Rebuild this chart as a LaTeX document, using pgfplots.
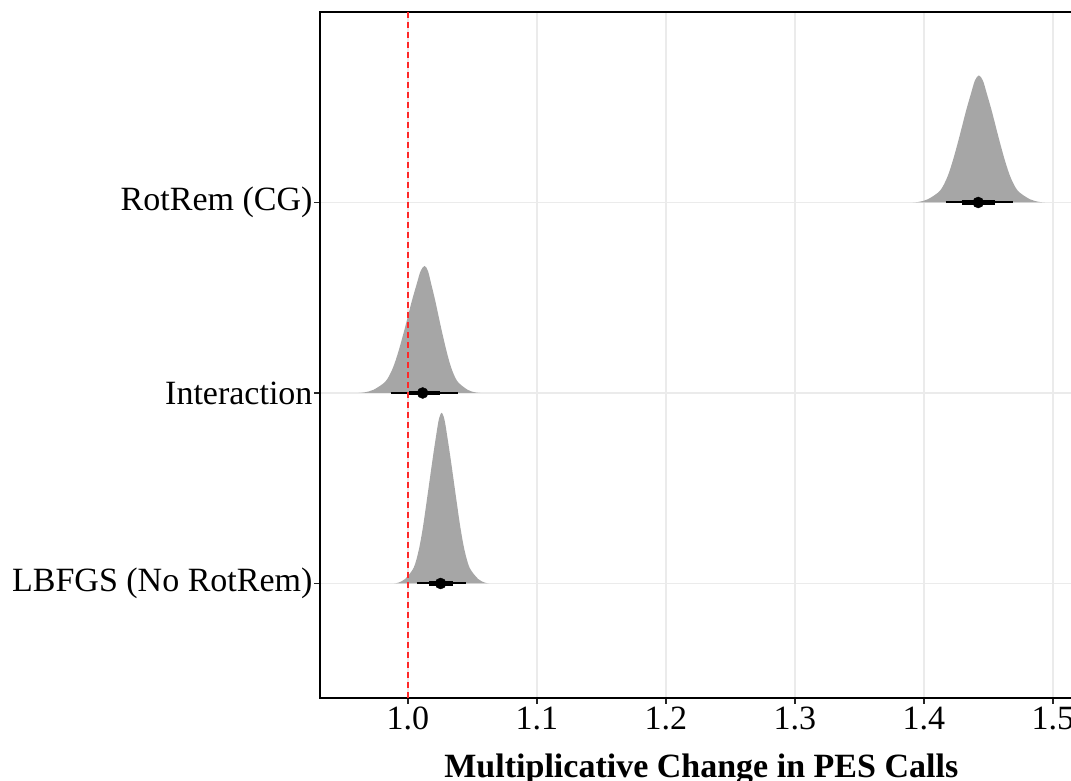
\documentclass[border=0pt]{standalone}
\usepackage{fontspec}
\setmainfont{Liberation Serif}
\usepackage{pgfplots}
\pgfplotsset{compat=1.18}
\usetikzlibrary{calc}
\definecolor{densgray}{RGB}{166,166,166}
\definecolor{gridgray}{RGB}{235,235,235}
\definecolor{refred}{RGB}{255,40,40}
\begin{document}
\begin{tikzpicture}
\begin{axis}[
  scale only axis,
  width=762.6pt, height=685.8pt,
  xmin=0.9318, xmax=1.523,
  ymin=0.4, ymax=4.0,
  xtick={1.0,1.1,1.2,1.3,1.4,1.5},
  ytick={1,2,3},
  yticklabels={LBFGS (No RotRem),Interaction,RotRem (CG)},
  xticklabel style={/pgf/number format/.cd, fixed, fixed zerofill, precision=1, assume math mode=true},
  tick label style={font=\fontsize{34}{40}\selectfont},
  yticklabel style={xshift=2pt},
  xlabel={\bfseries Multiplicative Change in PES Calls},
  xlabel style={font=\fontsize{34}{40}\selectfont, yshift=-17pt},
  grid=major,
  major grid style={color=gridgray, line width=1.6pt},
  axis line style={black, line width=2pt},
  tick align=outside,
  xtick pos=left, ytick pos=left,
  major tick length=6pt,
  tick style={black!85, line width=1.6pt},
  clip=false,
]
\coordinate (LL) at (rel axis cs:0,0);
\coordinate (UL) at (rel axis cs:0,1);
% RotRem (CG)
\addplot[fill=densgray, draw=none, smooth, tension=0.5] coordinates {
(1.3914,3.0000) (1.3961,3.0033) (1.4031,3.0173) (1.4124,3.0614) (1.4180,3.1314) (1.4224,3.2201)
(1.4271,3.3355) (1.4327,3.4829) (1.4364,3.5703) (1.4395,3.6403) (1.4426,3.6670)
(1.4457,3.6403) (1.4488,3.5703) (1.4525,3.4829) (1.4581,3.3355) (1.4628,3.2201) (1.4672,3.1314)
(1.4728,3.0614) (1.4821,3.0173) (1.4891,3.0033) (1.4938,3.0000)};
% Interaction
\addplot[fill=densgray, draw=none, smooth, tension=0.5] coordinates {
(0.9617,2.0000) (0.9664,2.0033) (0.9734,2.0173) (0.9827,2.0614) (0.9883,2.1314) (0.9927,2.2201)
(0.9974,2.3355) (1.0030,2.4829) (1.0067,2.5703) (1.0098,2.6403) (1.0129,2.6670)
(1.0155,2.6403) (1.0181,2.5703) (1.0212,2.4829) (1.0259,2.3355) (1.0299,2.2201) (1.0336,2.1314)
(1.0383,2.0614) (1.0461,2.0173) (1.0520,2.0033) (1.0559,2.0000)};
% LBFGS (No RotRem)
\addplot[fill=densgray, draw=none, smooth, tension=0.5] coordinates {
(0.9892,1.0000) (0.9926,1.0045) (0.9977,1.0233) (1.0044,1.0824) (1.0084,1.1765) (1.0116,1.2957)
(1.0149,1.4507) (1.0190,1.6487) (1.0216,1.7661) (1.0239,1.8602) (1.0261,1.8960)
(1.0283,1.8602) (1.0306,1.7661) (1.0332,1.6487) (1.0373,1.4507) (1.0406,1.2957) (1.0438,1.1765)
(1.0478,1.0824) (1.0545,1.0233) (1.0596,1.0045) (1.0630,1.0000)};
% intervals
\addplot[black, line width=2pt] coordinates {(1.4168,3) (1.4688,3)};
\addplot[black, line width=4.5pt] coordinates {(1.4292,3) (1.4550,3)};
\addplot[only marks, mark=*, mark size=5.5pt, black] coordinates {(1.4421,3)};
\addplot[black, line width=2pt] coordinates {(0.9866,2) (1.0385,2)};
\addplot[black, line width=4.5pt] coordinates {(1.0008,2) (1.0248,2)};
\addplot[only marks, mark=*, mark size=5.5pt, black] coordinates {(1.0114,2)};
\addplot[black, line width=2pt] coordinates {(1.0067,1) (1.0450,1)};
\addplot[black, line width=4.5pt] coordinates {(1.0165,1) (1.0347,1)};
\addplot[only marks, mark=*, mark size=5.5pt, black] coordinates {(1.0253,1)};
% reference line
\addplot[refred, line width=1.6pt, dash pattern=on 6pt off 4pt] coordinates {(1.0,0.4) (1.0,4.0)};
\end{axis}
\pgfresetboundingbox
\path[use as bounding box] ($(LL)+(-320pt,-83pt)$) rectangle ($(UL)+(751pt,12pt)$);
\end{tikzpicture}
\end{document}
